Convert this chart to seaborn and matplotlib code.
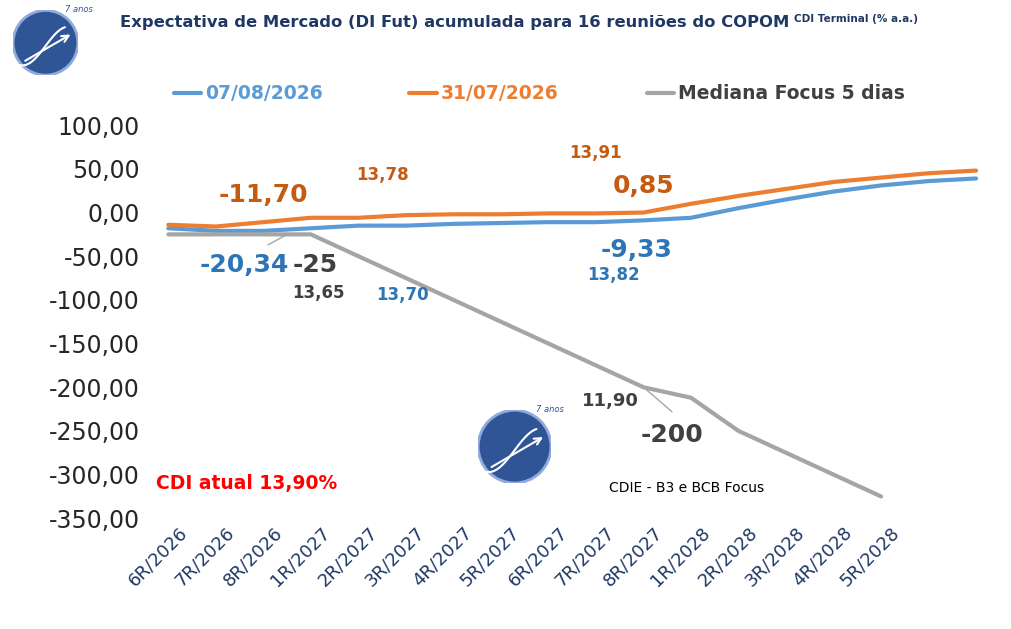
import matplotlib
matplotlib.use("Agg")
import matplotlib.pyplot as plt
import seaborn as sns
import numpy as np
import pandas as pd
from matplotlib.patches import Circle

sns.set_theme(style="white")
plt.rcParams['font.family'] = ['DejaVu Sans']

categories = ["6R/2026","7R/2026","8R/2026","1R/2027","2R/2027","3R/2027","4R/2027","5R/2027",
              "6R/2027","7R/2027","8R/2027","1R/2028","2R/2028","3R/2028","4R/2028","5R/2028","",""]
s_0708 = [-18,-21,-21,-18,-15,-15,-13,-12,-11,-11,-9,-6,5,15,24,31,36,39]
s_3107 = [-14,-16,-11,-6,-6,-3,-2,-2,-1,-1,0,10,19,27,35,40,45,48]
s_focus = [-25,-25,-25,-25,-50,-75,-100,-125,-150,-175,-200,-212,-250,-275,-300,-325,np.nan,np.nan]

x = np.arange(len(categories))
df = pd.DataFrame({"x": np.concatenate([x,x,x]),
                   "v": s_0708 + s_3107 + s_focus,
                   "s": ["07/08/2026"]*18 + ["31/07/2026"]*18 + ["Mediana Focus 5 dias"]*18})
pal = {"07/08/2026": "#5B9BD5", "31/07/2026": "#ED7D31", "Mediana Focus 5 dias": "#A5A5A5"}

fig = plt.figure(figsize=(10.11, 6.29), dpi=100)
ax = fig.add_axes([0.143, 0.176, 0.846, 0.625])
sns.lineplot(data=df, x="x", y="v", hue="s", palette=pal, linewidth=3, ax=ax, legend=False)
ax.set_xlim(-0.5, 17.5)
ax.set_ylim(-350, 100)
ax.set_yticks(np.arange(-350, 101, 50))
ax.set_yticklabels([f"{v:.2f}".replace(".", ",") for v in np.arange(-350, 101, 50)], fontsize=17)
ax.set_xticks(x + 0.2)
ax.set_xticklabels(categories, rotation=45, ha="right", rotation_mode="anchor", fontsize=13, color="#1F3864")
ax.set_xlabel(""); ax.set_ylabel("")
for s in ax.spines.values():
    s.set_visible(False)
ax.tick_params(length=0)

fig.text(0.119, 0.965, "Expectativa de Mercado (DI Fut) acumulada para 16 reuniões do COPOM", fontsize=11.8,
         fontweight="bold", color="#1F3864", va="center")
fig.text(0.785, 0.97, "CDI Terminal (% a.a.)", fontsize=7.5, fontweight="bold", color="#1F3864", va="center")

# legend
for xs, lab, c in [(0.172, "07/08/2026", "#5B9BD5"), (0.405, "31/07/2026", "#ED7D31"),
                   (0.64, "Mediana Focus 5 dias", "#A5A5A5")]:
    fig.add_artist(plt.Line2D([xs, xs+0.027], [0.852, 0.852], color=c, lw=3))
    fig.text(xs+0.031, 0.852, lab, fontsize=13.5, fontweight="bold",
             color={"#A5A5A5": "#404040"}.get(c, c), va="center")

def t(xd, yd, s, c, fs):
    ax.text(xd, yd, s, color=c, fontsize=fs, fontweight="bold", ha="center", va="center")

t(2.0, 20, "-11,70", "#C55A11", 18)
t(4.5, 43, "13,78", "#C55A11", 12)
t(9.0, 68, "13,91", "#C55A11", 12)
t(10.0, 30, "0,85", "#C55A11", 18)
t(1.6, -60, "-20,34", "#2E75B6", 18)
t(3.1, -60, "-25", "#404040", 18)
t(3.15, -92, "13,65", "#404040", 12)
t(4.93, -94, "13,70", "#2E75B6", 12)
t(9.86, -43, "-9,33", "#2E75B6", 18)
t(9.37, -72, "13,82", "#2E75B6", 12)
t(9.3, -216, "11,90", "#404040", 13)
t(10.6, -255, "-200", "#404040", 18)
ax.plot([2.5, 2.1], [-25, -37], color="#A5A5A5", lw=1)
ax.plot([10.0, 10.6], [-200, -228], color="#A5A5A5", lw=1)
ax.text(-0.25, -310, "CDI atual 13,90%", color="red", fontsize=13.5, fontweight="bold", va="center")
ax.text(10.9, -315, "CDIE - B3 e BCB Focus", color="black", fontsize=10, va="center", ha="center")

def logo(cx, cy, r):
    a = fig.add_axes([cx - r, cy - r*1.607, 2*r, 2*r*1.607])
    a.set_xlim(-1, 1); a.set_ylim(-1, 1); a.axis("off")
    a.add_patch(Circle((0, 0), 1, color="#2F5597"))
    a.add_patch(Circle((0, 0), 1, fill=False, ec="#8FAADC", lw=2))
    tt = np.linspace(-0.8, 0.6, 50)
    a.plot(tt, 0.6*np.sin(tt*2.2)-0.1, color="white", lw=1.5)
    a.annotate("", xy=(0.85, 0.3), xytext=(-0.7, -0.6), arrowprops=dict(arrowstyle="->", color="white", lw=1.5))
    a.text(0.6, 0.95, "7 anos", fontsize=6, color="#2F5597", style="italic")

logo(0.045, 0.932, 0.032)
logo(0.509, 0.29, 0.036)

fig.savefig("out.png", dpi=100)
